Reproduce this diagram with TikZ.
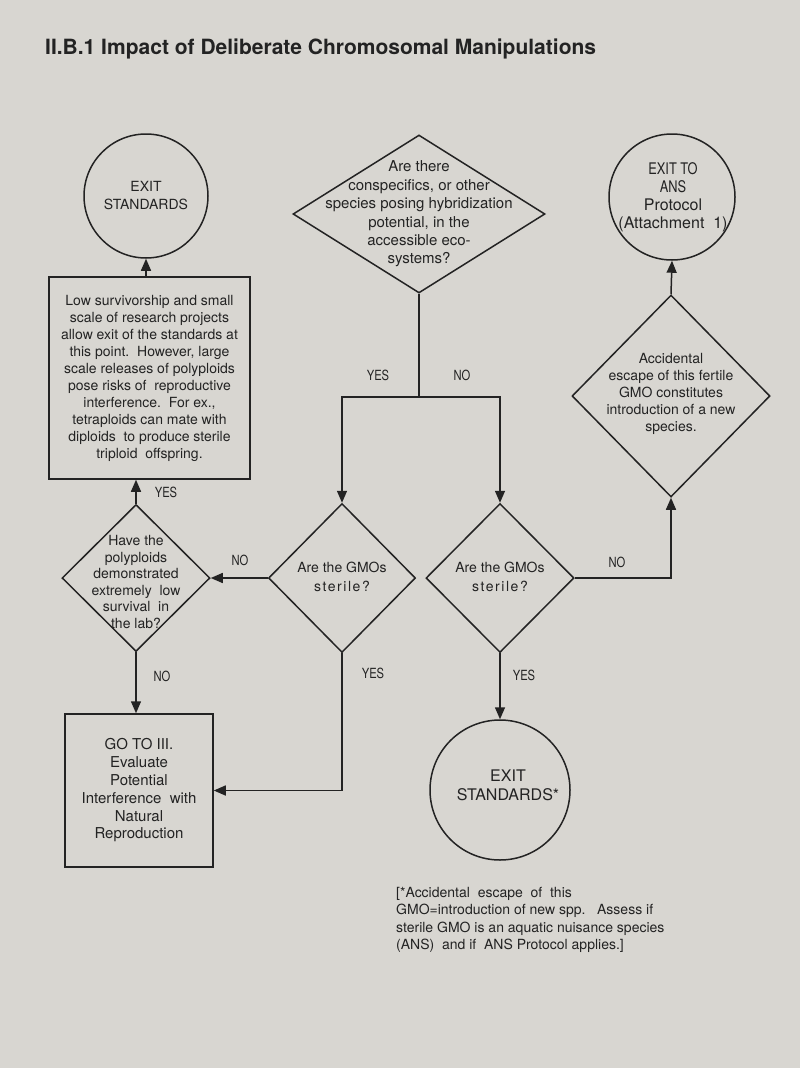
\documentclass[tikz,border=0pt]{standalone}
\usepackage{fontspec}
\setmainfont{TeX Gyre Heros}
\newfontfamily\narrowfont[FakeStretch=0.8]{TeX Gyre Heros}
\newfontfamily\spacedfont[LetterSpace=11]{TeX Gyre Heros}
\usetikzlibrary{shapes.geometric, positioning, arrows.meta}
\definecolor{paper}{RGB}{216,214,209}
\definecolor{ink}{RGB}{35,35,35}

\begin{document}
\begin{tikzpicture}[x=1pt, y=-1pt]
    % Setup the styles
    \tikzset{body text/.style={font=\fontsize{14}{17}\selectfont,
                               text=ink, align=center, inner sep=0pt},
             box style/.style={rectangle, draw=ink, line width=1.5pt, body text},
             exit style/.style={circle, draw=ink, line width=1.5pt, inner sep=0pt},
             test style/.style={diamond, draw=ink, line width=1.5pt, inner sep=0pt},
             answer/.style={font=\narrowfont\fontsize{14}{16}\selectfont, text=ink, inner sep=0pt},
             flow/.style={draw=ink, line width=1.5pt, -{Triangle[length=12pt, width=10pt]}},
             link/.style={draw=ink, line width=1.5pt}}

    % Page
    \fill[paper] (0, 0) rectangle (800, 1068);
    \useasboundingbox (0, 0) rectangle (800, 1068);

    \node[anchor=west, text=ink, inner sep=0pt,
          font=\bfseries\fontsize{21}{25}\selectfont] at (45, 49) (title)
          {II.B.1 Impact of Deliberate Chromosomal Manipulations};

    % Draw the exits
    \node[exit style, minimum size=124pt] at (146, 196) (exit) {};
    \node[body text, font=\fontsize{14}{18}\selectfont] at (146, 196) (exittxt) {EXIT\\STANDARDS};
    \node[exit style, minimum size=126pt] at (672, 197) (exitans) {};
    \node[body text, font=\fontsize{16}{18}\selectfont] at (673, 197) (exitanstxt)
          {{\narrowfont EXIT TO}\\{\narrowfont ANS}\\Protocol\\(Attachment\ \ 1)};
    \node[exit style, minimum size=140pt] at (500, 790) (exitstar) {};
    \node[body text, font=\fontsize{16}{19}\selectfont] at (508, 785) (exitstartxt) {EXIT\\STANDARDS*};

    % Draw the boxes
    \node[box style, minimum width=201pt, minimum height=202pt] at (149.5, 378) (lowrisk)
          {Low survivorship and small\\scale of research projects\\allow exit of the standards at\\
           this point.\ \ However, large\\scale releases of polyploids\\pose risks of\ \ reproductive\\
           interference.\ \ For ex.,\\tetraploids can mate with\\diploids\ \ to produce sterile\\
           triploid\ \ offspring.};
    \node[box style, minimum width=148pt, minimum height=153pt,
          font=\fontsize{15}{17.8}\selectfont] at (139, 790.5) (goto)
          {GO TO III.\\Evaluate\\Potential\\Interference\ \ with\\Natural\\Reproduction};

    % Draw the tests
    \node[test style, minimum width=252pt, minimum height=158pt] at (419, 214) (hybrid) {};
    \node[body text, font=\fontsize{15}{18.4}\selectfont] at (419, 214) (hybridtxt)
          {Are there\\conspecifics, or other\\species posing hybridization\\
           potential, in the\\accessible eco-\\systems?};
    \node[test style, minimum width=198pt, minimum height=202pt] at (671, 396) (newspp) {};
    \node[body text, font=\fontsize{14}{16.8}\selectfont] at (671, 394) (newspptxt)
          {Accidental\\escape of this fertile\\GMO constitutes\\introduction of a new\\species.};
    \node[test style, minimum width=147pt, minimum height=149pt] at (342, 578) (sterileL) {};
    \node[body text, font=\fontsize{14}{19}\selectfont] at (342, 577) (sterileLtxt)
          {Are the GMOs\\{\spacedfont sterile?}};
    \node[test style, minimum width=148pt, minimum height=149pt] at (500, 578) (sterileR) {};
    \node[body text, font=\fontsize{14}{19}\selectfont] at (500, 577) (sterileRtxt)
          {Are the GMOs\\{\spacedfont sterile?}};
    \node[test style, minimum width=148pt, minimum height=147pt] at (136, 578) (survival) {};
    \node[body text, font=\fontsize{14}{16.5}\selectfont] at (136, 582) (survivaltxt)
          {Have the\\polyploids\\demonstrated\\extremely\ \ low\\survival\ \ in\\the lab?};

    % Footnote
    \node[body text, align=left, anchor=north west, font=\fontsize{14}{17.3}\selectfont]
          at (396, 887) (note)
          {[*Accidental\ \ escape\ \ of\ \ this\\GMO=introduction of new spp.\ \ \ Assess if\\
           sterile GMO is an aquatic nuisance species\\(ANS)\ \ and if\ \ ANS Protocol applies.]};

    % Connect the shapes with arrows
    \coordinate (split) at (hybrid.south |- 0, 397);
    \draw[link] (hybrid.south) -- (split);
    \draw[flow] (split) -| (sterileL.north);
    \draw[flow] (split) -| (sterileR.north);
    \draw[flow] (lowrisk.north -| exit.south) -- (exit.south);
    \draw[flow] (newspp.north) -- (exitans.south);
    \draw[flow] (sterileL.west) -- (survival.east);
    \draw[flow] (survival.north) -- (lowrisk.south -| survival.north);
    \draw[flow] (survival.south) -- (goto.north -| survival.south);
    \draw[flow] (sterileL.south) |- (goto.east);
    \draw[flow] (sterileR.south) -- (exitstar.north);
    \draw[flow] (sterileR.east) -| (newspp.south);

    % Answers
    \node[answer] at (378, 375) (yes1) {YES};
    \node[answer] at (462, 375) (no1) {NO};
    \node[answer] at (240, 560) (no2) {NO};
    \node[answer] at (166, 492) (yes2) {YES};
    \node[answer] at (162, 676) (no3) {NO};
    \node[answer] at (373, 673) (yes3) {YES};
    \node[answer] at (524, 675) (yes4) {YES};
    \node[answer] at (617, 562) (no4) {NO};
\end{tikzpicture}
\end{document}
